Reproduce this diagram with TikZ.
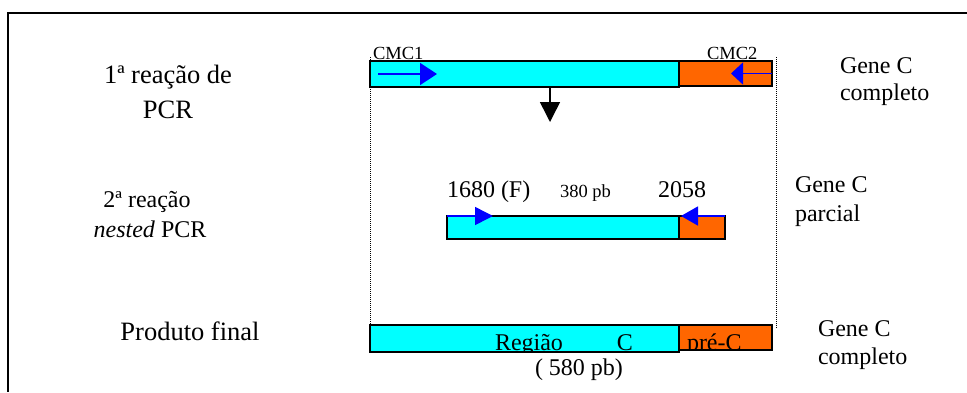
\documentclass[tikz,border=0pt]{standalone}
\usepackage{fontspec}
\setmainfont{Liberation Serif}
\usetikzlibrary{arrows.meta,positioning}
\definecolor{gcyan}{RGB}{0,255,255}
\definecolor{gorange}{RGB}{255,102,0}
\definecolor{gblue}{RGB}{0,0,255}
\begin{document}
\begin{tikzpicture}[x=1pt, y=-1pt,
    every node/.style={inner sep=0pt, outer sep=0pt, font=\fontsize{24}{28}\selectfont},
    bar/.style={draw, line width=1.4pt, anchor=north west},
    cbar/.style={bar, fill=gcyan},
    obar/.style={bar, fill=gorange},
    primer/.style={gblue, line width=1.5pt},
    guide/.style={densely dotted, line width=1pt},
    big/.style={font=\fontsize{26.5}{30}\selectfont},
    small/.style={font=\fontsize{18.5}{22}\selectfont}]
    \useasboundingbox (0,0) rectangle (967,392);
    % Frame
    \draw[line width=1.5pt] (967,13) -- (8,13) -- (8,392);
    % Bars
    \node[cbar, minimum width=309pt, minimum height=26pt] (c1) at (370,61) {};
    \node[obar, minimum width=93pt, minimum height=25pt] (o1) at (c1.north east) {};
    \node[cbar, minimum width=232pt, minimum height=23pt] (c2) at (447,216) {};
    \node[obar, minimum width=46pt, minimum height=23pt] (o2) at (c2.north east) {};
    \node[cbar, minimum width=309pt, minimum height=27pt] (c3) at (370,325) {};
    \node[obar, minimum width=93pt, minimum height=25pt] (o3) at (c3.north east) {};
    % Guide lines
    \coordinate (gl) at (370,57);
    \coordinate (gr1) at (776,57);
    \coordinate (gr2) at (776,328);
    \draw[guide] (gl) -- (c3.north west);
    \draw[guide] (gr1) -- (gr2);
    % Primers
    \coordinate[right=8pt of c1.west] (f1s);
    \coordinate[right=67pt of c1.west] (f1e);
    \coordinate[left=41pt of o1.east] (r1e);
    \draw[primer, -{Triangle[length=17pt,width=22pt]}] (f1s) -- (f1e);
    \draw[primer, -{Triangle[length=12pt,width=22pt]}] (o1.east) -- (r1e);
    \coordinate[right=46pt of c2.north west] (f2e);
    \coordinate[left=44pt of o2.north east] (r2e);
    \draw[primer, -{Triangle[length=18pt,width=18pt]}] (c2.north west) -- (f2e);
    \draw[primer, -{Triangle[length=17pt,width=19pt]}] (o2.north east) -- (r2e);
    % Step arrow
    \coordinate (dn) at (550,122);
    \draw[line width=1.5pt, -{Triangle[length=20pt,width=20pt]}] (c1.south -| dn) -- (dn);
    % Primer labels
    \node[small, anchor=base west] (cmc1) at (373,59) {CMC1};
    \node[small, anchor=base west] (cmc2) at (707,59) {CMC2};
    \node[anchor=base west] (p1680) at (447,197) {1680 (F)};
    \node[small, anchor=base west] (len2) at (560,197) {380 pb};
    \node[anchor=base west] (p2058) at (658,197) {2058};
    % Final product labels
    \begin{scope}
        \clip (370,325) rectangle (772,350);
        \node[anchor=base west] (regc) at (495,350) {Região\hspace{54pt}C};
        \node[anchor=base west] (prec) at (687,350) {pré-C};
    \end{scope}
    \node[anchor=base west] (len3) at (535,375) {( 580 pb)};
    % Step labels
    \node[big, anchor=base] (s1a) at (168,83) {1ª reação de};
    \node[big, anchor=base] (s1b) at (168,118) {PCR};
    \node[anchor=base] (s2a) at (147,207) {2ª reação};
    \node[anchor=base] (s2b) at (150,237) {\textit{nested} PCR};
    \node[big, anchor=base] (s3) at (190,340) {Produto final};
    % Gene labels
    \node[anchor=base west] (g1a) at (840,73) {Gene C};
    \node[anchor=base west] (g1b) at (840,100) {completo};
    \node[anchor=base west] (g2a) at (795,192) {Gene C};
    \node[anchor=base west] (g2b) at (795,221) {parcial};
    \node[anchor=base west] (g3a) at (818,336) {Gene C};
    \node[anchor=base west] (g3b) at (818,364) {completo};
\end{tikzpicture}
\end{document}
